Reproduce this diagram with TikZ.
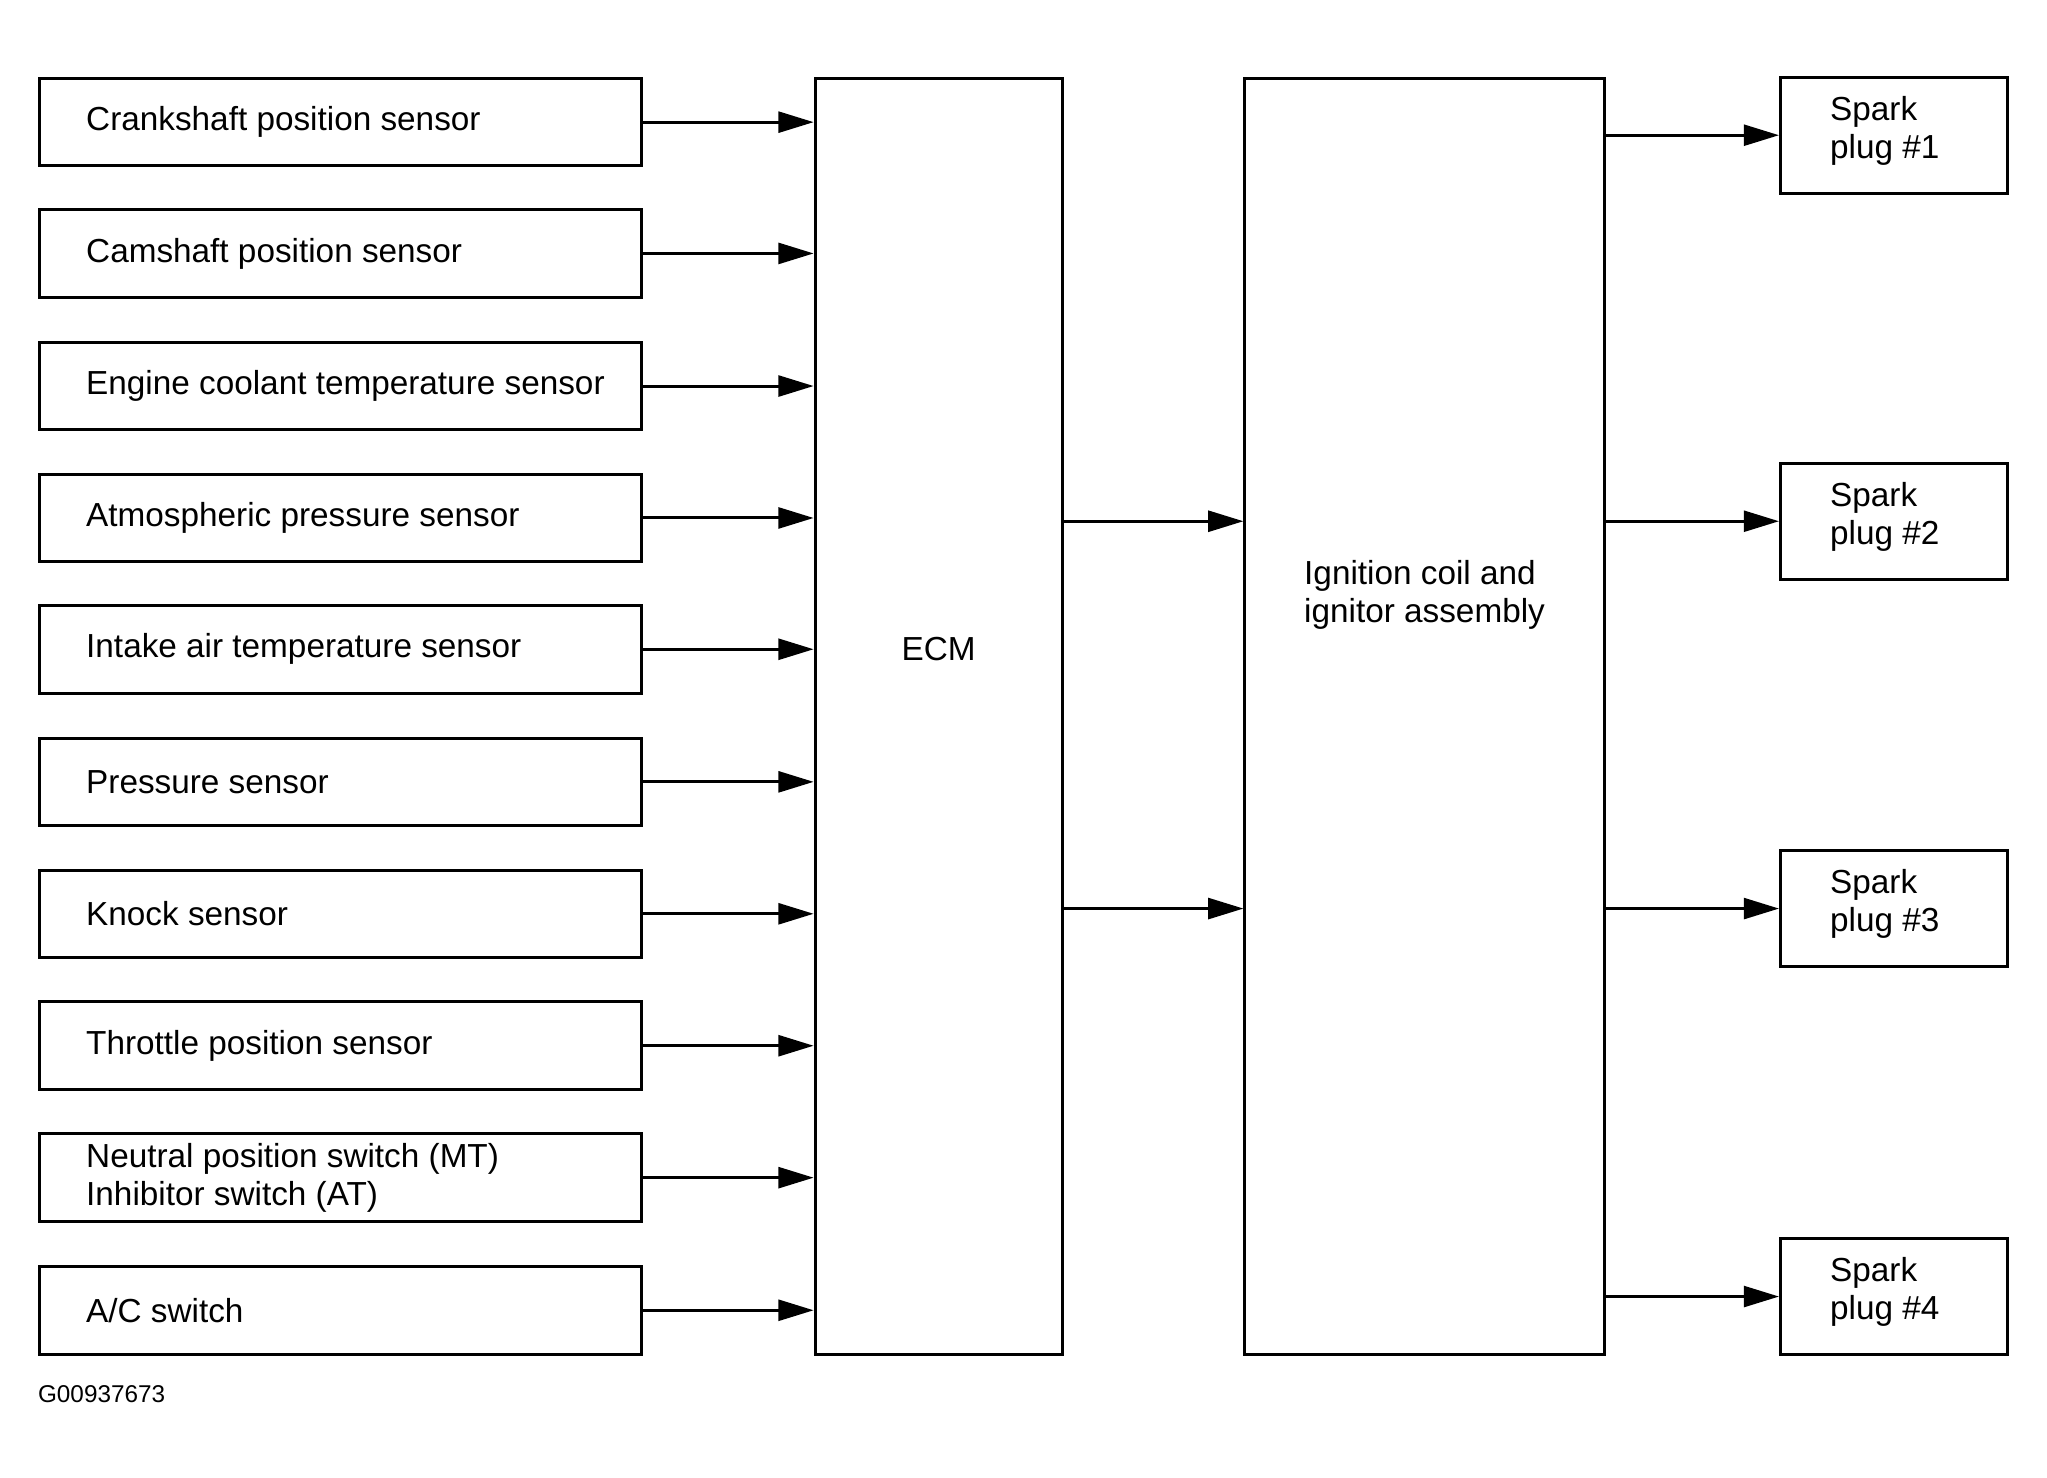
\documentclass[tikz,border=0pt]{standalone}
\usepackage{fontspec}
\setmainfont{Liberation Sans}
\usetikzlibrary{arrows.meta}

\begin{document}
\begin{tikzpicture}[x=0.5pt, y=-0.5pt, line width=1.15pt,
    >={Triangle[length=13.5pt, width=8pt]},
    every node/.style={font=\fontsize{12.75}{14.5}\selectfont},
    sensor/.style={rectangle, draw, minimum height=33.5pt, minimum width=230.5pt, inner xsep=13pt, text width=204.5pt, align=flush left, execute at begin node={\leftskip=5pt}},
    unit/.style={rectangle, draw, minimum height=488.5pt},
    plug/.style={rectangle, draw, minimum height=44.5pt, minimum width=87pt, inner xsep=19pt, text width=49pt, align=flush left, text depth=20.7pt}]
    \useasboundingbox (0,0) rectangle (1567,1131);
    % Sensors
    \node (crank) [sensor] at (260.5, 93.5) {Crankshaft position sensor};
    \node (cam) [sensor] at (260.5, 194) {Camshaft position sensor};
    \node (ect) [sensor] at (260.5, 295.5) {Engine coolant temperature sensor};
    \node (atm) [sensor] at (260.5, 396.5) {Atmospheric pressure sensor};
    \node (iat) [sensor] at (260.5, 497) {Intake air temperature sensor};
    \node (press) [sensor] at (260.5, 598.5) {Pressure sensor};
    \node (knock) [sensor] at (260.5, 699.5) {Knock sensor};
    \node (tps) [sensor] at (260.5, 800.5) {Throttle position sensor};
    \node (nps) [sensor] at (260.5, 901.5) {Neutral position switch (MT)\\Inhibitor switch (AT)};
    \node (ac) [sensor] at (260.5, 1003) {A/C switch};
    % Units
    \node (ecm) [unit, minimum width=94.5pt, text depth=51.5pt] at (718.5, 548.5) {ECM};
    \node (ign) [unit, minimum width=137.5pt, align=flush left, text depth=96pt] at (1090.5, 548.5) {Ignition coil and\\ignitor assembly};
    % Spark plugs
    \node (sp1) [plug] at (1450, 103.5) {Spark\\plug \#1};
    \node (sp2) [plug] at (1450, 399) {Spark\\plug \#2};
    \node (sp3) [plug] at (1450, 695.5) {Spark\\plug \#3};
    \node (sp4) [plug] at (1450, 992.5) {Spark\\plug \#4};
    % Code
    \node (code) [anchor=west, inner sep=0pt, font=\fontsize{9.3}{11}\selectfont] at (28, 1067) {G00937673};
    % Arrows
    \draw[->] (crank.east) -- (crank.east -| ecm.west);
    \draw[->] (cam.east) -- (cam.east -| ecm.west);
    \draw[->] (ect.east) -- (ect.east -| ecm.west);
    \draw[->] (atm.east) -- (atm.east -| ecm.west);
    \draw[->] (iat.east) -- (iat.east -| ecm.west);
    \draw[->] (press.east) -- (press.east -| ecm.west);
    \draw[->] (knock.east) -- (knock.east -| ecm.west);
    \draw[->] (tps.east) -- (tps.east -| ecm.west);
    \draw[->] (nps.east) -- (nps.east -| ecm.west);
    \draw[->] (ac.east) -- (ac.east -| ecm.west);
    \draw[->] (ecm.east |- sp2.west) -- (ign.west |- sp2.west);
    \draw[->] (ecm.east |- sp3.west) -- (ign.west |- sp3.west);
    \draw[->] (ign.east |- sp1.west) -- (sp1.west);
    \draw[->] (ign.east |- sp2.west) -- (sp2.west);
    \draw[->] (ign.east |- sp3.west) -- (sp3.west);
    \draw[->] (ign.east |- sp4.west) -- (sp4.west);
\end{tikzpicture}
\end{document}
